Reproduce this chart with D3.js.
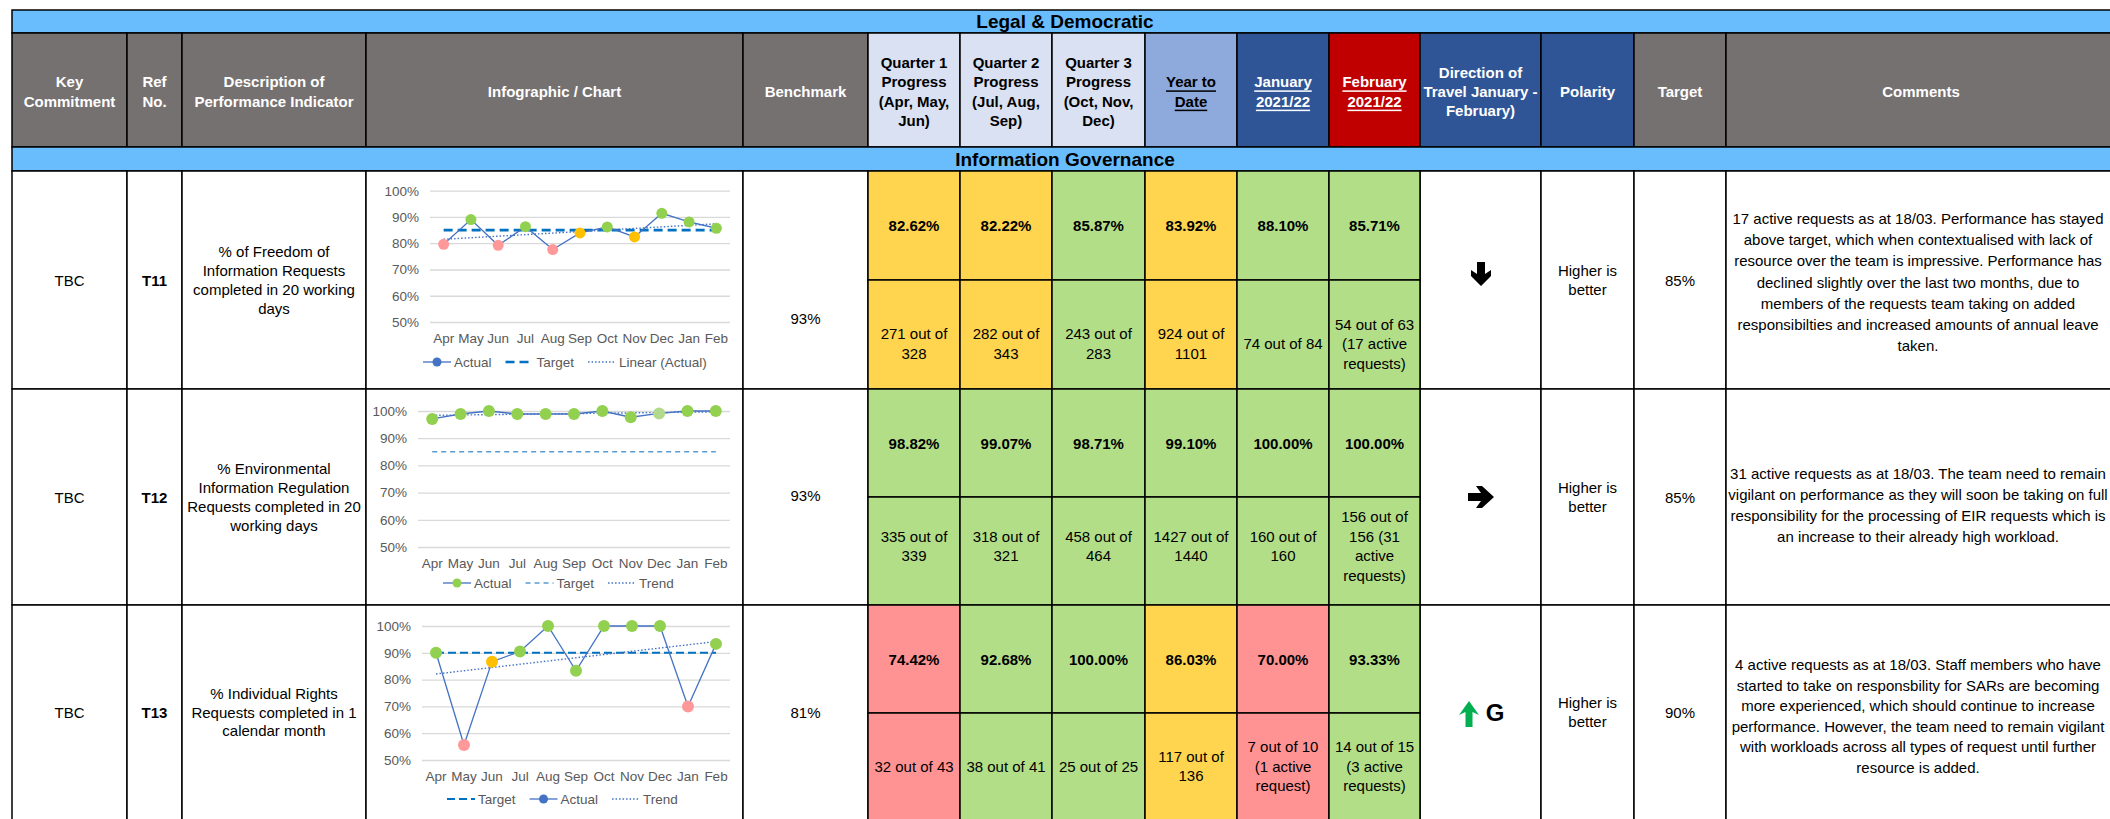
<!DOCTYPE html>
<html><head><meta charset="utf-8">
<script src="https://cdn.jsdelivr.net/npm/d3@7"></script>
<style>
body{margin:0;background:#fff;}
svg{display:block;font-family:"Liberation Sans",Arial,Helvetica,sans-serif;}
</style>
</head><body><svg id="c" width="2110" height="819"></svg>
<script>
// ---------------- DATA ----------------
const months = ["Apr","May","Jun","Jul","Aug","Sep","Oct","Nov","Dec","Jan","Feb"];
const yTicks = [0.5,0.6,0.7,0.8,0.9,1.0];

const t11Actual = [0.796,0.890,0.792,0.863,0.776,0.839,0.862,0.824,0.914,0.881,0.857];
const t11Status = ["R","G","R","G","R","A","G","A","G","G","G"];
const t11Target = 0.85;
const t11Trend  = [0.815,0.874];   // start (Apr) / end (Feb)

const t12Actual = [0.971,0.989,1.0,0.989,0.989,0.989,1.0,0.977,0.991,1.0,1.0];
const t12Status = ["G","G","G","G","G","G","G","G","L","G","G"];
const t12Target = 0.85;
const t12Trend  = [0.984,0.997];

const t13Actual = [0.90,0.556,0.867,0.905,1.0,0.833,1.0,1.0,1.0,0.70,0.9333];
const t13Status = ["G","R","A","G","G","G","G","G","G","R","G"];
const t13Target = 0.90;
const t13Trend  = [0.821,0.942];

const legend1 = ["Actual","Target","Linear (Actual)"];
const legend2 = ["Actual","Target","Trend"];
const legend3 = ["Target","Actual","Trend"];

const pageTitle = "Legal & Democratic";
const sectionTitle = "Information Governance";

const headerLabels = [
  ["Key","Commitment"],["Ref","No."],["Description of","Performance Indicator"],
  ["Infographic / Chart"],["Benchmark"],
  ["Quarter 1","Progress","(Apr, May,","Jun)"],["Quarter 2","Progress","(Jul, Aug,","Sep)"],
  ["Quarter 3","Progress","(Oct, Nov,","Dec)"],["Year to","Date"],["January","2021/22"],
  ["February","2021/22"],["Direction of","Travel  January -","February)"],["Polarity"],
  ["Target"],["Comments"]
];

const keyCommitments = ["TBC","TBC","TBC"];
const refNos = ["T11","T12","T13"];
const descriptions = [
  ["% of Freedom of","Information Requests","completed in 20 working","days"],
  ["% Environmental","Information Regulation","Requests completed in 20","working days"],
  ["% Individual Rights","Requests completed in 1","calendar month"]
];
const benchmarks = ["93%","93%","81%"];
const progressPct = [
  ["82.62%","82.22%","85.87%","83.92%","88.10%","85.71%"],
  ["98.82%","99.07%","98.71%","99.10%","100.00%","100.00%"],
  ["74.42%","92.68%","100.00%","86.03%","70.00%","93.33%"]
];
const progressCounts = [
  [["271 out of","328"],["282 out of","343"],["243 out of","283"],["924 out of","1101"],["74 out of 84"],["54 out of 63","(17 active","requests)"]],
  [["335 out of","339"],["318 out of","321"],["458 out of","464"],["1427 out of","1440"],["160 out of","160"],["156 out of","156 (31","active","requests)"]],
  [["32 out of 43"],["38 out of 41"],["25 out of 25"],["117 out of","136"],["7 out of 10","(1 active","request)"],["14 out of 15","(3 active","requests)"]]
];
const progressStatus = [
  ["A","A","G","A","G","G"],
  ["G","G","G","G","G","G"],
  ["R","G","G","A","R","G"]
];
const directions = ["down","right","up"];
const directionRag = ["","","G"];
const polarity = [["Higher is","better"],["Higher is","better"],["Higher is","better"]];
const targets = ["85%","85%","90%"];
const comments = [
  ["17 active requests as at 18/03. Performance has stayed","above target, which when contextualised with lack of","resource over the team is impressive. Performance has","declined slightly over the last two months, due to","members of the requests team taking on added","responsibilties and increased amounts of annual leave","taken."],
  ["31 active requests as at 18/03. The team need to remain","vigilant on performance as they will soon be taking on full","responsibility for the processing of EIR requests which is","an increase to their already high workload."],
  ["4 active requests as at 18/03. Staff members who have","started to take on responsbility for SARs are becoming","more experienced, which should continue to increase","performance. However, the team need to remain vigilant","with workloads across all types of request until further","resource is added."]
];

// ---------------- STYLE / LAYOUT ----------------
const C = {
  band:"#69BDFD", grey:"#767171", lav:"#D9E1F2", ytd:"#8EA9DB", navy:"#2F5597", red:"#C00000",
  cellA:"#FFD54F", cellG:"#B3DE88", cellR:"#FF9393",
  mG:"#92D050", mA:"#FFC000", mR:"#FF9999", mL:"#B1DA8C",
  line:"#4472C4", tgt:"#0070C0", tgt2:"#5B9BD5", text:"#595959"
};
const cellFill = {A:C.cellA, G:C.cellG, R:C.cellR};
const markFill = {A:C.mA, G:C.mG, R:C.mR, L:C.mL};

const xe = [12,127,182,366,743,868,960,1052,1145,1237,1329,1420,1541,1634,1726,2116];
const Y = {top:10, hdr:33, hdrB:147, secB:171};
const rowT = [171,389,605];
const rowB = [389,605,830];
const rowSplit = [280,497,713];

const svg = d3.select("#c");
const SW = 1.5;

function rect(x0,y0,x1,y1,fill){
  svg.append("rect").attr("x",x0).attr("y",y0).attr("width",x1-x0).attr("height",y1-y0)
    .attr("fill",fill||"#fff").attr("stroke","#000").attr("stroke-width",SW);
}
function mtext(lines,cx,cy,lh,o){
  o=o||{};
  const n=lines.length;
  lines.forEach((s,i)=>{
    const t=svg.append("text").attr("x",cx).attr("y",cy+(i-(n-1)/2)*lh)
      .attr("text-anchor","middle").attr("dominant-baseline","central")
      .attr("font-size",o.size||15).attr("font-weight",o.bold?"bold":"normal")
      .attr("fill",o.color||"#000").text(s);
    if(o.u) t.attr("text-decoration","underline");
  });
}

// ---------------- TITLE BANDS ----------------
rect(xe[0],Y.top,xe[15],Y.hdr,C.band);
mtext([pageTitle],1065,21.8,0,{size:19,bold:true});

const hdrFill = [C.grey,C.grey,C.grey,C.grey,C.grey,C.lav,C.lav,C.lav,C.ytd,C.navy,C.red,C.navy,C.navy,C.grey,C.grey];
const hdrColor = ["#fff","#fff","#fff","#fff","#fff","#000","#000","#000","#000","#fff","#fff","#fff","#fff","#fff","#fff"];
const hdrU = [0,0,0,0,0,0,0,0,1,1,1,0,0,0,0];
headerLabels.forEach((lab,i)=>{
  rect(xe[i],Y.hdr,xe[i+1],Y.hdrB,hdrFill[i]);
  mtext(lab,(xe[i]+xe[i+1])/2,91.5,19.3,{bold:true,color:hdrColor[i],u:hdrU[i]});
});
rect(xe[0],Y.hdrB,xe[15],Y.secB,C.band);
mtext([sectionTitle],1065,159.5,0,{size:19,bold:true});

// ---------------- ROWS ----------------
const benchY = [318,495,712];
const commentY = [282,505,716];
for(let r=0;r<3;r++){
  const t=rowT[r], b=rowB[r], s=rowSplit[r], cy=(t+(r<2?b:819))/2;
  [0,1,2,3,4,11,12,13,14].forEach(c=>rect(xe[c],t,xe[c+1],b,"#fff"));
  mtext([keyCommitments[r]],(xe[0]+xe[1])/2,cy,0,{});
  mtext([refNos[r]],(xe[1]+xe[2])/2,cy,0,{bold:true});
  mtext(descriptions[r],(xe[2]+xe[3])/2,cy,18.8,{});
  mtext([benchmarks[r]],(xe[4]+xe[5])/2,benchY[r],0,{});
  for(let k=0;k<6;k++){
    const c=5+k, fill=cellFill[progressStatus[r][k]];
    rect(xe[c],t,xe[c+1],s,fill);
    rect(xe[c],s,xe[c+1],b,fill);
    mtext([progressPct[r][k]],(xe[c]+xe[c+1])/2,(t+s)/2,0,{bold:true});
    const bb = r<2?b:819;
    mtext(progressCounts[r][k],(xe[c]+xe[c+1])/2,(s+bb)/2+ (r===0?9:(r===1?-5:0)),19.5,{});
  }
  mtext(polarity[r],(xe[12]+xe[13])/2,cy,19.5,{});
  mtext([targets[r]],(xe[13]+xe[14])/2,cy,0,{});
  mtext(comments[r],1918,commentY[r],r===2?20.5:21.3,{});
  // direction arrow
  const ax=1481, ay=(r===0?274:cy);
  let p;
  if(directions[r]==="down"){
    p=`M${ax-4},${ay-12} L${ax+4},${ay-12} L${ax+4},${ay} L${ax+10},${ay-4} L${ax+10},${ay+2} L${ax},${ay+12} L${ax-10},${ay+2} L${ax-10},${ay-4} L${ax-4},${ay} Z`;
    svg.append("path").attr("d",p).attr("fill","#000");
  } else if(directions[r]==="right"){
    p=`M${ax-13},${ay-4} L${ax},${ay-4} L${ax-5},${ay-11} L${ax+1},${ay-11} L${ax+13},${ay} L${ax+1},${ay+11} L${ax-5},${ay+11} L${ax},${ay+4} L${ax-13},${ay+4} Z`;
    svg.append("path").attr("d",p).attr("fill","#000");
  } else {
    const ux=1469, uy=cy+2;
    p=`M${ux-3.5},${uy+13} L${ux-3.5},${uy-2} L${ux-10},${uy+1} L${ux},${uy-13} L${ux+10},${uy+1} L${ux+3.5},${uy-2} L${ux+3.5},${uy+13} Z`;
    svg.append("path").attr("d",p).attr("fill","#00B050");
    svg.append("text").attr("x",1495).attr("y",cy).attr("text-anchor","middle").attr("dominant-baseline","central")
      .attr("font-size",24).attr("font-weight","bold").text(directionRag[r]);
  }
}

// ---------------- CHARTS ----------------
function drawChart(cfg){
  const g = svg.append("g");
  const x = d3.scaleBand().domain(months).range([cfg.x0,cfg.x1]);
  const y = d3.scaleLinear().domain([0.5,1]).range([cfg.y50,cfg.y100]);
  const cx = m => x(m)+x.bandwidth()/2;

  const ya = g.append("g").attr("transform",`translate(${cfg.x0},0)`)
    .call(d3.axisLeft(y).tickValues(yTicks).tickSize(-(cfg.x1-cfg.x0)).tickPadding(11).tickFormat(d3.format(".0%")));
  ya.select(".domain").remove();
  ya.selectAll(".tick line").attr("stroke","#D9D9D9").attr("stroke-width",1.3);
  ya.selectAll("text").attr("fill",C.text).attr("font-size",13.5).attr("font-family","Liberation Sans, Arial, sans-serif");

  const xa = g.append("g").attr("transform",`translate(0,${cfg.y50})`)
    .call(d3.axisBottom(x).tickSize(0).tickPadding(11.5));
  xa.select(".domain").remove();
  xa.selectAll("text").attr("fill",C.text).attr("font-size",13.5).attr("font-family","Liberation Sans, Arial, sans-serif");

  const first=months[0], last=months[months.length-1];
  g.append("line").attr("x1",cx(first)).attr("x2",cx(last)).attr("y1",y(cfg.target)).attr("y2",y(cfg.target))
    .attr("stroke",cfg.tStroke).attr("stroke-width",cfg.tW).attr("stroke-dasharray",cfg.tDash);
  g.append("line").attr("x1",cx(first)).attr("x2",cx(last)).attr("y1",y(cfg.trend[0])).attr("y2",y(cfg.trend[1]))
    .attr("stroke",C.line).attr("stroke-width",1.4).attr("stroke-dasharray","1.5,2");
  g.append("path").datum(cfg.actual)
    .attr("d",d3.line().x((d,i)=>cx(months[i])).y(d=>y(d)))
    .attr("fill","none").attr("stroke",C.line).attr("stroke-width",1.3);
  g.selectAll(".mk").data(cfg.actual).join("circle")
    .attr("cx",(d,i)=>cx(months[i])).attr("cy",d=>y(d)).attr("r",cfg.r)
    .attr("fill",(d,i)=>markFill[cfg.status[i]]);

  let lx = cfg.legX; const ly = cfg.legY;
  cfg.legend.forEach((name,i)=>{
    const kind = cfg.legKinds[i];
    if(kind==="actual"){
      g.append("line").attr("x1",lx).attr("x2",lx+28).attr("y1",ly).attr("y2",ly).attr("stroke",C.line).attr("stroke-width",1.3);
      g.append("circle").attr("cx",lx+14).attr("cy",ly).attr("r",4.5).attr("fill",cfg.legMark);
    } else if(kind==="target"){
      g.append("line").attr("x1",lx).attr("x2",lx+28).attr("y1",ly).attr("y2",ly)
        .attr("stroke",cfg.tStroke).attr("stroke-width",cfg.tW).attr("stroke-dasharray",cfg.tDash);
    } else {
      g.append("line").attr("x1",lx).attr("x2",lx+28).attr("y1",ly).attr("y2",ly)
        .attr("stroke",C.line).attr("stroke-width",1.4).attr("stroke-dasharray","1.5,2");
    }
    const t = g.append("text").attr("x",lx+31).attr("y",ly).attr("dominant-baseline","central")
      .attr("font-size",13.5).attr("fill",C.text).text(name);
    lx += 31 + t.node().getComputedTextLength() + 14;
  });
}

drawChart({x0:430,x1:730,y50:322,y100:190.7,actual:t11Actual,status:t11Status,target:t11Target,trend:t11Trend,
  tStroke:C.tgt,tW:2.6,tDash:"9,5",r:5.5,legend:legend1,legKinds:["actual","target","trend"],legX:423,legY:362,legMark:C.line});
drawChart({x0:418,x1:730,y50:547,y100:411,actual:t12Actual,status:t12Status,target:t12Target,trend:t12Trend,
  tStroke:C.tgt2,tW:1.4,tDash:"5,4",r:6,legend:legend2,legKinds:["actual","target","trend"],legX:443,legY:583,legMark:C.mG});
drawChart({x0:422,x1:730,y50:760,y100:626,actual:t13Actual,status:t13Status,target:t13Target,trend:t13Trend,
  tStroke:C.tgt,tW:2,tDash:"8,4",r:6,legend:legend3,legKinds:["target","actual","trend"],legX:447,legY:799,legMark:C.line});
</script>
</body></html>
